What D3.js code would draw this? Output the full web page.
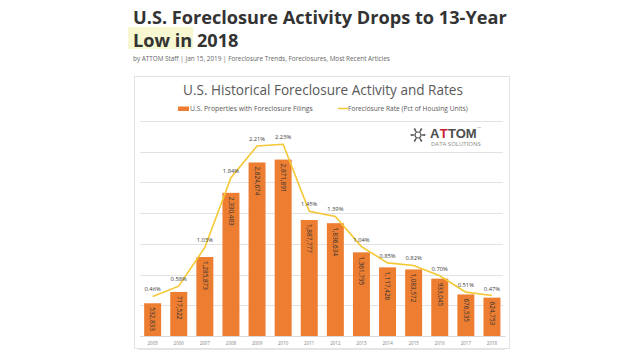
<!DOCTYPE html>
<html><head><meta charset="utf-8">
<script src="https://cdn.jsdelivr.net/npm/d3@7"></script>
<style>
html,body{margin:0;padding:0;background:#fff;}
svg{display:block;}
</style></head>
<body>
<svg id="c" width="640" height="360"></svg>
<script>
const years = ["2005","2006","2007","2008","2009","2010","2011","2012","2013","2014","2015","2016","2017","2018"];
const filings = [532833,717522,1285873,2330483,2824674,2871891,1887777,1836634,1361795,1117426,1083572,933045,676535,624753];
const rates = [0.46,0.58,1.03,1.84,2.21,2.23,1.45,1.39,1.04,0.85,0.82,0.70,0.51,0.47];
const gridTicks = [500000,1000000,1500000,2000000,2500000,3000000,3500000];

const svg = d3.select("#c");
const FONT = "'Open Sans', sans-serif";

function fitText(sel, target){
  const len = sel.node().getComputedTextLength();
  const fs = parseFloat(sel.attr("font-size"));
  sel.attr("font-size", fs*target/len);
}

// Article heading
const hl = svg.append("rect").attr("x",128).attr("y",27).attr("height",22).attr("fill","#f7f8d2");
const h1 = svg.append("g");
const t1 = h1.append("text").attr("x",133).attr("y",24).attr("font-family",FONT).attr("font-weight",700)
  .attr("font-size",18).attr("fill","#333").text("U.S. Foreclosure Activity Drops to 13-Year");
fitText(t1, 374);
const t2 = h1.append("text").attr("x",133).attr("y",47).attr("font-family",FONT).attr("font-weight",700)
  .attr("font-size",t1.attr("font-size")).attr("fill","#333").text("Low in 2018");
const wLowIn = t2.node().getSubStringLength(0,6);
hl.attr("width", 133 + wLowIn + 1 - 128);
const by = svg.append("text").attr("x",133).attr("y",61).attr("font-family",FONT).attr("font-size",6.5)
  .attr("fill","#666").text("by ATTOM Staff | Jan 15, 2019 | Foreclosure Trends, Foreclosures, Most Recent Articles");
fitText(by, 257);

// Card
svg.append("rect").attr("x",134.5).attr("y",76.5).attr("width",375).attr("height",272).attr("fill","#fff")
  .attr("stroke","#e3e3e3").attr("stroke-width",1);

// Chart title & legend
const ct = svg.append("text").attr("x",323).attr("y",95).attr("text-anchor","middle").attr("font-family",FONT)
  .attr("font-size",13).attr("fill","#595959").text("U.S. Historical Foreclosure Activity and Rates");
fitText(ct, 280);
svg.append("rect").attr("x",178).attr("y",106.5).attr("width",11).attr("height",4.5).attr("fill","#ED7D31");
const l1 = svg.append("text").attr("x",190).attr("y",110.5).attr("font-family",FONT).attr("font-size",6)
  .attr("fill","#595959").text("U.S. Properties with Foreclosure Filings");
fitText(l1, 123);
svg.append("line").attr("x1",338).attr("x2",348).attr("y1",108.5).attr("y2",108.5).attr("stroke","#F4C834").attr("stroke-width",1.5);
const l2 = svg.append("text").attr("x",348).attr("y",110.5).attr("font-family",FONT).attr("font-size",6)
  .attr("fill","#595959").text("Foreclosure Rate (Pct of Housing Units)");
fitText(l2, 120);

// Scales
const x = d3.scaleBand().domain(years).range([139.6,505]).paddingInner(0.35).paddingOuter(0.175);
const y = d3.scaleLinear().domain([0,3500000]).range([336,121]);
const y2 = d3.scaleLinear().domain([0,2.5]).range([336,121]);

// Gridlines
svg.append("g").selectAll("line").data(gridTicks).join("line")
  .attr("x1",140).attr("x2",503).attr("y1",d=>Math.round(y(d))+0.5).attr("y2",d=>Math.round(y(d))+0.5)
  .attr("stroke","#e2e2e2").attr("stroke-width",1);

// Category axis
const xAxis = svg.append("g").attr("transform","translate(0,336)")
  .call(d3.axisBottom(x).tickSize(0).tickPadding(6));
xAxis.select(".domain").attr("stroke","#d9d9d9");
xAxis.selectAll("text").attr("font-family",FONT).attr("font-size",4.5).attr("fill","#7f7f7f");
svg.append("line").attr("x1",138).attr("x2",505).attr("y1",349.5).attr("y2",349.5).attr("stroke","#e6e6e6");

// Bars
svg.append("g").selectAll("rect").data(years).join("rect")
  .attr("x",d=>x(d)).attr("width",x.bandwidth())
  .attr("y",(d,i)=>y(filings[i])).attr("height",(d,i)=>y(0)-y(filings[i]))
  .attr("fill","#ED7D31");

// Bar labels (rotated)
const fmt = d3.format(",");
svg.append("g").selectAll("text").data(years).join("text")
  .attr("transform",(d,i)=>`translate(${x(d)+x.bandwidth()/2-2.2},${y(filings[i])+4}) rotate(90)`)
  .attr("font-family",FONT).attr("font-size",6.4).attr("fill","#333")
  .text((d,i)=>fmt(filings[i]));

// Rate line
const line = d3.line().x((d,i)=>x(years[i])+x.bandwidth()/2).y(d=>y2(d));
svg.append("path").datum(rates).attr("d",line).attr("fill","none").attr("stroke","#F4C834").attr("stroke-width",1.6);

// Rate labels
svg.append("g").selectAll("text").data(rates).join("text")
  .attr("x",(d,i)=>x(years[i])+x.bandwidth()/2).attr("y",d=>y2(d)-5)
  .attr("text-anchor","middle").attr("font-family",FONT).attr("font-size",5.8).attr("fill","#404040")
  .text(d=>d.toFixed(2)+"%");

// Logo
const logo = svg.append("g").attr("transform","translate(418,135)");
logo.append("circle").attr("r",3).attr("fill","none").attr("stroke","#555").attr("stroke-width",1.2);
d3.range(6).forEach(k=>{
  const a = k*Math.PI/3;
  logo.append("line").attr("x1",3.5*Math.cos(a)).attr("y1",3.5*Math.sin(a))
    .attr("x2",6*Math.cos(a)).attr("y2",6*Math.sin(a)).attr("stroke","#555").attr("stroke-width",1.4);
  logo.append("circle").attr("cx",6.5*Math.cos(a)).attr("cy",6.5*Math.sin(a)).attr("r",1).attr("fill","#555");
});
const parts = [["A","#4d4d4d"],["T","#c8202f"],["TOM","#4d4d4d"]];
let lx = 430;
parts.forEach(([s,c])=>{
  const t = svg.append("text").attr("x",lx).attr("y",137.5).attr("font-family","'Liberation Sans', Arial, sans-serif")
    .attr("font-weight",700).attr("font-size",13).attr("fill",c).text(s);
  lx += t.node().getComputedTextLength() + 0.3;
});
svg.append("text").attr("x",lx+0.5).attr("y",128).attr("font-family",FONT).attr("font-size",2.5).attr("fill","#666").text("TM");
const ds = svg.append("text").attr("x",431).attr("y",146).attr("font-family",FONT).attr("font-size",4.3)
  .attr("fill","#8a8a8a").text("DATA SOLUTIONS");
fitText(ds, 50);
</script>
</body></html>
